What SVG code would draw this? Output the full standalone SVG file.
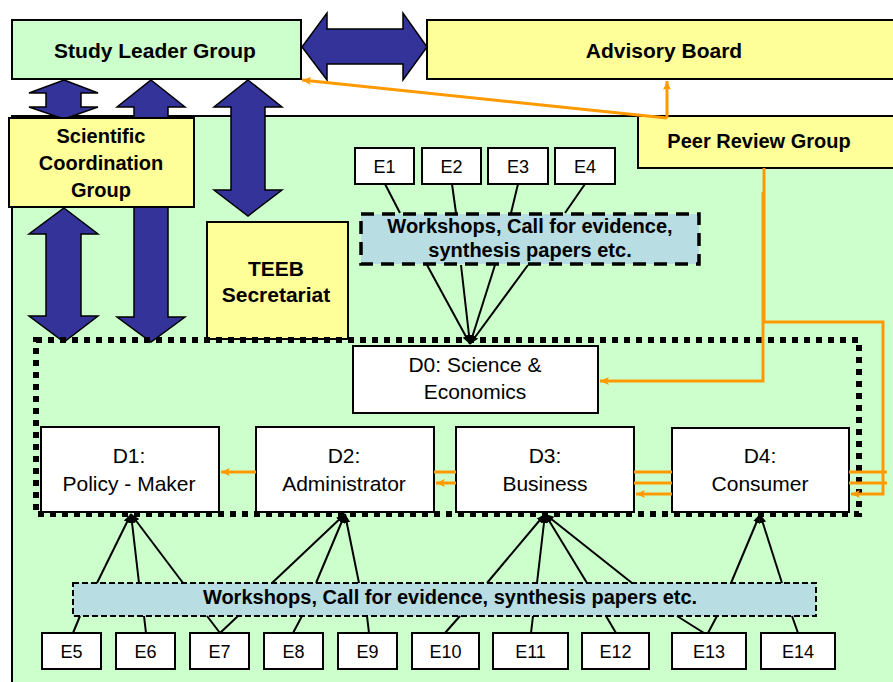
<svg xmlns="http://www.w3.org/2000/svg" width="893" height="682" viewBox="0 0 893 682">
  <style>
    text { font-family: "Liberation Sans", Arial, sans-serif; fill: #000; text-anchor: middle; }
    .b { font-weight: bold; }
    .t20 { font-size: 20px; }
    .t21 { font-size: 21px; }
    .e { font-size: 18px; }
    .green { fill: #ccffcc; stroke: #000; stroke-width: 2; }
    .yellow { fill: #ffff99; stroke: #000; stroke-width: 2; }
    .white { fill: #ffffff; stroke: #000; stroke-width: 2; }
    .big { fill: #333399; stroke: #000; stroke-width: 1.5; stroke-linejoin: miter; }
    .ws1 { fill: #b8dde2; stroke: #000; stroke-width: 3.5; stroke-dasharray: 13 8; }
    .ws2 { fill: #b8dde2; stroke: #000; stroke-width: 2; stroke-dasharray: 6 3; }
    .frame { fill: none; stroke: #000; stroke-width: 6; stroke-dasharray: 6 6; }
    .blk { stroke: #000; stroke-width: 2; fill: none; }
    .org { stroke: #ff9900; stroke-width: 3; fill: none; }
  </style>
  <defs>
    <marker id="oa" markerUnits="userSpaceOnUse" markerWidth="10" markerHeight="10" refX="9" refY="5" orient="auto">
      <path d="M0,1 L9,5 L0,9 L2,5 Z" fill="#ff9900"/>
    </marker>
    <marker id="ka" markerUnits="userSpaceOnUse" markerWidth="10" markerHeight="10" refX="9" refY="5" orient="auto">
      <path d="M0,1.5 L9,5 L0,8.5 Z" fill="#000"/>
    </marker>
  </defs>

  <!-- page background and working area -->
  <rect x="0" y="0" width="893" height="682" fill="#ffffff"/>
  <rect id="work-area" x="12" y="116" width="900" height="600" class="green"/>

  <!-- top-level groups -->
  <g id="study-leader-group">
    <rect x="12" y="20" width="289" height="59" class="green"/>
    <text x="155" y="58" class="b t21">Study Leader Group</text>
  </g>
  <g id="advisory-board">
    <rect x="427" y="20" width="480" height="59" class="yellow"/>
    <text x="664" y="58" class="b t21">Advisory Board</text>
  </g>
  <g id="peer-review-group">
    <rect x="638" y="116" width="270" height="52" class="yellow"/>
    <text x="759" y="148" class="b t20">Peer Review Group</text>
  </g>

  <!-- block arrows -->
  <g id="block-arrows">
    <polygon class="big" points="302,47 327,13 327,29 403,29 403,13 427,47 403,80 403,64 327,64 327,80"/>
    <polygon class="big" points="64,80 98,93 81,93 81,107 98,107 64,119 29,107 46,107 46,93 29,93"/>
    <polygon class="big" points="151,80 185,107 168,107 168,317 185,317 151,342 117,317 134,317 134,107 117,107"/>
    <polygon class="big" points="248,80 282,107 265,107 265,190 282,190 248,216 214,190 231,190 231,107 214,107"/>
    <polygon class="big" points="64,208 98,234 81,234 81,316 98,316 64,342 29,316 46,316 46,234 29,234"/>
  </g>

  <g id="scientific-coordination-group">
    <rect x="9" y="118" width="185" height="89" class="yellow"/>
    <text x="101" y="143" class="b t20">Scientific</text>
    <text x="101" y="170" class="b t20">Coordination</text>
    <text x="101" y="197" class="b t20">Group</text>
  </g>

  <g id="teeb-secretariat">
    <rect x="207" y="222" width="141" height="117" class="yellow"/>
    <text x="276" y="276" class="b t21">TEEB</text>
    <text x="276" y="302" class="b t21">Secretariat</text>
  </g>

  <!-- dotted frame around the deliverables -->
  <rect id="deliverables-frame" x="36" y="340" width="823" height="174" class="frame"/>

  <!-- top evidence inputs -->
  <g id="e1"><rect x="355" y="148" width="59" height="36" class="white"/><text x="384.5" y="173" class="e">E1</text></g>
  <g id="e2"><rect x="422" y="148" width="59" height="36" class="white"/><text x="451.5" y="173" class="e">E2</text></g>
  <g id="e3"><rect x="488" y="148" width="60" height="36" class="white"/><text x="518" y="173" class="e">E3</text></g>
  <g id="e4"><rect x="555" y="148" width="60" height="36" class="white"/><text x="585" y="173" class="e">E4</text></g>

  <g id="workshops-top">
    <rect x="361" y="214" width="338" height="50" class="ws1"/>
    <text x="530" y="233" class="b t20">Workshops, Call for evidence,</text>
    <text x="530" y="257" class="b t20">synthesis papers etc.</text>
  </g>

  <!-- deliverables -->
  <g id="d0">
    <rect x="353" y="346" width="245" height="67" class="white"/>
    <text x="475" y="372" class="t21">D0: Science &amp;</text>
    <text x="475" y="399" class="t21">Economics</text>
  </g>
  <g id="d1">
    <rect x="41" y="427" width="178" height="85" class="white"/>
    <text x="129" y="463" class="t21">D1:</text>
    <text x="129" y="491" class="t21">Policy - Maker</text>
  </g>
  <g id="d2">
    <rect x="256" y="427" width="178" height="85" class="white"/>
    <text x="344" y="463" class="t21">D2:</text>
    <text x="344" y="491" class="t21">Administrator</text>
  </g>
  <g id="d3">
    <rect x="456" y="427" width="178" height="85" class="white"/>
    <text x="545" y="463" class="t21">D3:</text>
    <text x="545" y="491" class="t21">Business</text>
  </g>
  <g id="d4">
    <rect x="672" y="428" width="177" height="84" class="white"/>
    <text x="760" y="463" class="t21">D4:</text>
    <text x="760" y="491" class="t21">Consumer</text>
  </g>

  <!-- bottom evidence inputs -->
  <g id="workshops-bottom">
    <rect x="73" y="583" width="743" height="33" class="ws2"/>
    <text x="450" y="604" class="b t20">Workshops, Call for evidence, synthesis papers etc.</text>
  </g>
  <g id="e5"><rect x="42" y="633" width="59" height="36" class="white"/><text x="71.5" y="658" class="e">E5</text></g>
  <g id="e6"><rect x="116" y="633" width="59" height="36" class="white"/><text x="145.5" y="658" class="e">E6</text></g>
  <g id="e7"><rect x="190" y="633" width="59" height="36" class="white"/><text x="219.5" y="658" class="e">E7</text></g>
  <g id="e8"><rect x="264" y="633" width="59" height="36" class="white"/><text x="293.5" y="658" class="e">E8</text></g>
  <g id="e9"><rect x="338" y="633" width="59" height="36" class="white"/><text x="367.5" y="658" class="e">E9</text></g>
  <g id="e10"><rect x="412" y="633" width="67" height="36" class="white"/><text x="445.5" y="658" class="e">E10</text></g>
  <g id="e11"><rect x="493" y="633" width="75" height="36" class="white"/><text x="530.5" y="658" class="e">E11</text></g>
  <g id="e12"><rect x="582" y="633" width="67" height="36" class="white"/><text x="615.5" y="658" class="e">E12</text></g>
  <g id="e13"><rect x="672" y="633" width="74" height="36" class="white"/><text x="709" y="658" class="e">E13</text></g>
  <g id="e14"><rect x="761" y="633" width="74" height="36" class="white"/><text x="798" y="658" class="e">E14</text></g>

  <!-- connectors -->
  <g id="connectors">
    <!-- top inputs into the workshop box -->
    <line class="blk" x1="385" y1="184" x2="400" y2="213"/>
    <line class="blk" x1="452" y1="184" x2="456" y2="213"/>
    <line class="blk" x1="518" y1="184" x2="511" y2="213"/>
    <line class="blk" x1="585" y1="184" x2="565" y2="213"/>
    <!-- workshop box into D0 -->
    <line class="blk" x1="427" y1="265" x2="470" y2="344" marker-end="url(#ka)"/>
    <line class="blk" x1="461" y1="265" x2="470" y2="344" marker-end="url(#ka)"/>
    <line class="blk" x1="495" y1="265" x2="470" y2="344" marker-end="url(#ka)"/>
    <line class="blk" x1="528" y1="265" x2="470" y2="344" marker-end="url(#ka)"/>

    <!-- bottom workshop box into D1..D4 -->
    <line class="blk" x1="97" y1="583" x2="131" y2="514" marker-end="url(#ka)"/>
    <line class="blk" x1="139" y1="583" x2="131" y2="514" marker-end="url(#ka)"/>
    <line class="blk" x1="183" y1="583" x2="131" y2="514" marker-end="url(#ka)"/>
    <line class="blk" x1="272" y1="583" x2="345" y2="514" marker-end="url(#ka)"/>
    <line class="blk" x1="316" y1="583" x2="345" y2="514" marker-end="url(#ka)"/>
    <line class="blk" x1="359" y1="583" x2="345" y2="514" marker-end="url(#ka)"/>
    <line class="blk" x1="487" y1="583" x2="545" y2="514" marker-end="url(#ka)"/>
    <line class="blk" x1="537" y1="583" x2="545" y2="514" marker-end="url(#ka)"/>
    <line class="blk" x1="587" y1="583" x2="545" y2="514" marker-end="url(#ka)"/>
    <line class="blk" x1="632" y1="583" x2="545" y2="514" marker-end="url(#ka)"/>
    <line class="blk" x1="731" y1="583" x2="760" y2="514" marker-end="url(#ka)"/>
    <line class="blk" x1="782" y1="583" x2="760" y2="514" marker-end="url(#ka)"/>

    <!-- bottom inputs into the workshop box -->
    <line class="blk" x1="80" y1="616" x2="73" y2="633"/>
    <line class="blk" x1="144" y1="616" x2="146" y2="633"/>
    <line class="blk" x1="207" y1="616" x2="220" y2="633"/>
    <line class="blk" x1="238" y1="616" x2="220" y2="633"/>
    <line class="blk" x1="302" y1="616" x2="293" y2="633"/>
    <line class="blk" x1="367" y1="616" x2="369" y2="633"/>
    <line class="blk" x1="460" y1="616" x2="445" y2="633"/>
    <line class="blk" x1="533" y1="616" x2="531" y2="633"/>
    <line class="blk" x1="606" y1="616" x2="616" y2="633"/>
    <line class="blk" x1="677" y1="616" x2="704" y2="633"/>
    <line class="blk" x1="717" y1="616" x2="708" y2="633"/>
    <line class="blk" x1="792" y1="616" x2="798" y2="633"/>

    <!-- review and feedback flows -->
    <polyline class="org" points="667,118 302,80" marker-end="url(#oa)"/>
    <polyline class="org" points="667,118 667,81" marker-end="url(#oa)"/>
    <polyline class="org" points="764,168 764,322 883,322 883,494 851,494" marker-end="url(#oa)"/>
    <polyline class="org" points="763,192 763,381 600,381" marker-end="url(#oa)"/>
    <line class="org" x1="849" y1="472" x2="887" y2="472"/>
    <line class="org" x1="849" y1="483" x2="887" y2="483"/>
    <line class="org" x1="672" y1="472" x2="634" y2="472"/>
    <line class="org" x1="672" y1="483" x2="634" y2="483"/>
    <line class="org" x1="672" y1="494" x2="636" y2="494" marker-end="url(#oa)"/>
    <line class="org" x1="456" y1="472" x2="434" y2="472"/>
    <line class="org" x1="456" y1="483" x2="436" y2="483" marker-end="url(#oa)"/>
    <line class="org" x1="256" y1="472" x2="221" y2="472" marker-end="url(#oa)"/>
  </g>
</svg>
